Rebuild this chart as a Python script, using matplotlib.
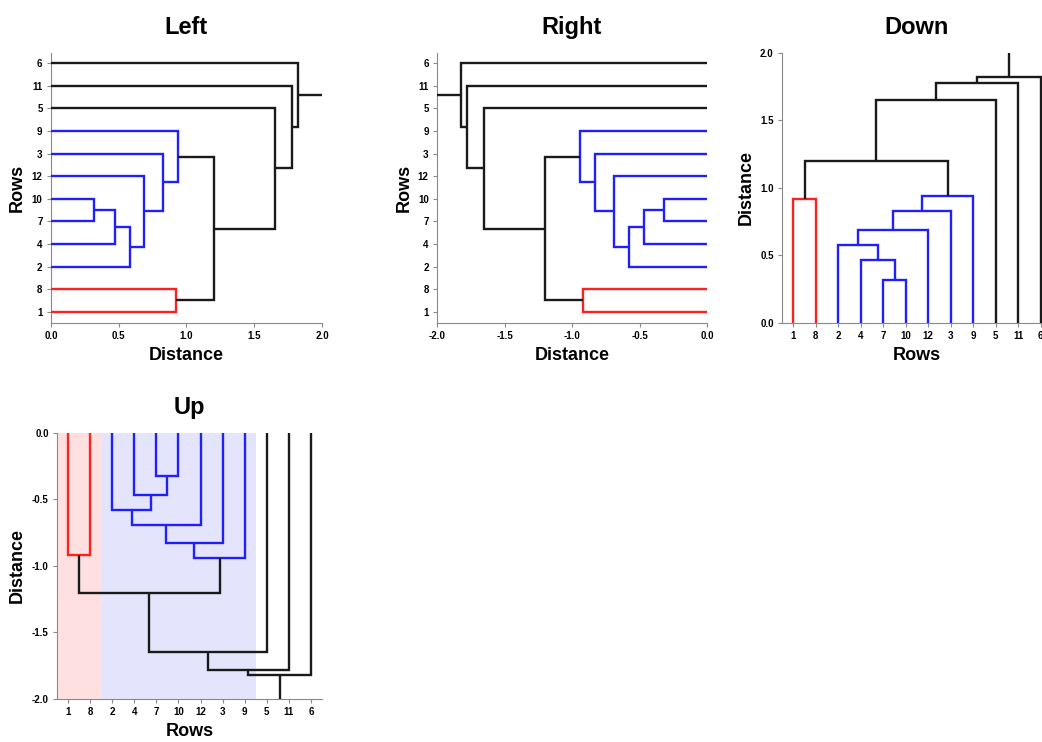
import matplotlib

matplotlib.use("Agg")
import matplotlib.pyplot as plt
from matplotlib.ticker import FormatStrFormatter

plt.rcParams["font.family"] = ["Liberation Sans", "DejaVu Sans"]
plt.rcParams["font.weight"] = "bold"
plt.rcParams["axes.unicode_minus"] = False

# leaf order along the axis, and the merges (a, b, height); new nodes are 13, 14, ...
leaf_order = [1, 8, 2, 4, 7, 10, 12, 3, 9, 5, 11, 6]
merge_a = [7, 4, 2, 15, 16, 17, 1, 19, 20, 21, 22]
merge_b = [10, 13, 14, 12, 3, 9, 8, 18, 5, 11, 6]
merge_h = [0.32, 0.47, 0.58, 0.69, 0.83, 0.94, 0.92, 1.20, 1.65, 1.78, 1.82]
merge_color = ["blue", "blue", "blue", "blue", "blue", "blue", "red",
               "black", "black", "black", "black"]
stem_top = 2.0
dist_ticks = [0.0, 0.5, 1.0, 1.5, 2.0]

COLORS = {"red": "#ff2020", "blue": "#2020ff", "black": "#1a1a1a"}
SPINE = "#8a8a8a"


def layout():
    pos = {leaf: i + 1 for i, leaf in enumerate(leaf_order)}
    hgt = {leaf: 0.0 for leaf in leaf_order}
    links = []
    for k, (a, b, h) in enumerate(zip(merge_a, merge_b, merge_h)):
        node = len(leaf_order) + 1 + k
        pos[node] = (pos[a] + pos[b]) / 2
        hgt[node] = h
        xs = [pos[a], pos[a], pos[b], pos[b]]
        ys = [hgt[a], h, h, hgt[b]]
        links.append((xs, ys, merge_color[k]))
    root = len(leaf_order) + len(merge_h)
    links.append(([pos[root], pos[root]], [hgt[root], stem_top], "black"))
    return links


def style(ax):
    for side in ["top", "right"]:
        ax.spines[side].set_visible(False)
    for side in ["left", "bottom"]:
        ax.spines[side].set_color(SPINE)
        ax.spines[side].set_linewidth(0.8)
    ax.tick_params(length=3, width=0.8, color=SPINE, labelsize=7, pad=3)
    for lab in ax.get_xticklabels() + ax.get_yticklabels():
        lab.set_fontweight("bold")


def draw(ax, orient, title):
    ticks = list(range(1, len(leaf_order) + 1))
    labels = [str(v) for v in leaf_order]
    sign = -1 if orient in ("right", "up") else 1
    dticks = [sign * v + 0.0 for v in dist_ticks]
    dlim = sorted([0, sign * stem_top])
    for xs, ys, c in layout():
        if orient in ("down", "up"):
            px, py = xs, [sign * y for y in ys]
        else:
            px, py = [sign * y for y in ys], xs
        ax.plot(px, py, color=COLORS[c], lw=1.7, solid_capstyle="butt",
                solid_joinstyle="miter", zorder=3)

    if orient in ("left", "right"):
        ax.set_yticks(ticks)
        ax.set_yticklabels(labels)
        ax.set_ylim(0.5, len(leaf_order) + 0.45)
        ax.set_xticks(dticks)
        ax.set_xlim(dlim)
        ax.xaxis.set_major_formatter(FormatStrFormatter("%.1f"))
        ax.set_xlabel("Distance", fontsize=13, fontweight="bold")
        ax.set_ylabel("Rows", fontsize=13, fontweight="bold")
    else:
        ax.set_xticks(ticks)
        ax.set_xticklabels(labels)
        ax.set_xlim(0.5, len(leaf_order) + 0.5)
        ax.set_yticks(dticks)
        ax.set_ylim(dlim)
        ax.yaxis.set_major_formatter(FormatStrFormatter("%.1f"))
        ax.set_xlabel("Rows", fontsize=13, fontweight="bold")
        ax.set_ylabel("Distance", fontsize=13, fontweight="bold")
    ax.set_title(title, fontsize=17, fontweight="bold", pad=14)
    style(ax)


fig = plt.figure(figsize=(10.42, 7.42), dpi=100)

ax_left = fig.add_axes([0.0489, 0.5647, 0.2601, 0.3639])
draw(ax_left, "left", "Left")

ax_right = fig.add_axes([0.4194, 0.5647, 0.2591, 0.3639])
draw(ax_right, "right", "Right")

ax_down = fig.add_axes([0.7505, 0.5647, 0.2591, 0.3639])
draw(ax_down, "down", "Down")

ax_up = fig.add_axes([0.0547, 0.0580, 0.2543, 0.3585])
draw(ax_up, "up", "Up")
# cluster bands behind the leaves
ax_up.axvspan(0.5, 2.5, color="#ffe0e0", zorder=0, lw=0)
ax_up.axvspan(2.5, 9.5, color="#e4e4fd", zorder=0, lw=0)

fig.savefig("out.png", dpi=100)
